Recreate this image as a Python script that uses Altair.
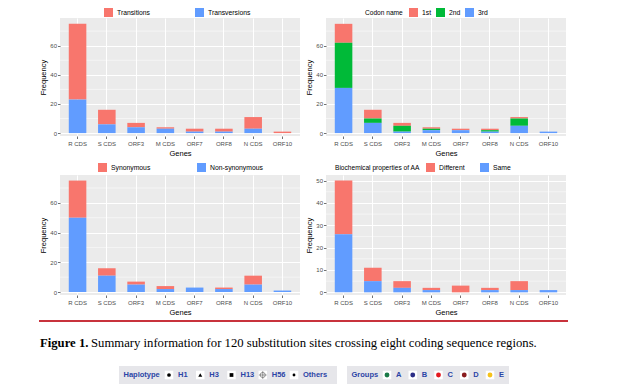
import altair as alt
import pandas as pd

# ---------------- data ----------------
genes = ["R CDS", "S CDS", "ORF3", "M CDS", "ORF7", "ORF8", "N CDS", "ORF10"]

transitions = [52, 10, 3, 1, 2, 2, 8, 1]
transversions = [23, 6, 4, 3, 1, 1, 3, 0]

codon_1st = [13, 6, 2, 1, 1, 1, 1, 0]
codon_2nd = [31, 3, 4, 1, 0, 1, 5, 0]
codon_3rd = [31, 7, 1, 2, 2, 1, 5, 1]

synonymous = [25, 5, 2, 2, 0, 1, 6, 0]
non_synonymous = [50, 11, 5, 2, 3, 2, 5, 1]

aa_different = [24, 6, 3, 1, 3, 1, 4, 0]
aa_same = [26, 5, 2, 1, 0, 1, 1, 1]

y_ticks_a = [0, 20, 40, 60]
y_minor_a = [10, 30, 50, 70]
y_ticks_b = [0, 10, 20, 30, 40, 50]
y_minor_b = [5, 15, 25, 35, 45]

caption_bold = "Figure 1."
caption_text = "Summary information for 120 substitution sites crossing eight coding sequence regions."

haplotype_title = "Haplotype"
haplotype_labels = ["H1", "H3", "H13", "H56", "Others"]
haplotype_symbols = ["circle", "triangle", "square", "crosshair", "dot"]
groups_title = "Groups"
group_labels = ["A", "B", "C", "D", "E"]

# ---------------- styles ----------------
RED, GREEN, BLUE = "#F8766D", "#00BA38", "#619CFF"
GROUP_COLORS = ["#1B7A48", "#2B2D86", "#E3191F", "#8A1C1F", "#F6C21A"]
SANS = "Liberation Sans"
SERIF = "Liberation Serif"
TXT_BLUE = "#2B44A6"
PANEL_W = 240


def panel(names, values, colors, title, y_domain, height, ticks, minor,
          lx, ly, col_pad, title_pad=0):
    rows = []
    for rank, (name, vals) in enumerate(zip(names, values)):
        for g, v in zip(genes, vals):
            rows.append({"gene": g, "series": name, "count": v, "rank": rank})
    df = pd.DataFrame(rows)
    yscale = alt.Scale(domain=y_domain, nice=False, zero=False)
    lk = dict(orient="none", legendX=lx, legendY=ly, direction="horizontal",
              columns=len(names), symbolType="square", symbolSize=81,
              symbolStrokeWidth=0, labelFont=SANS, labelFontSize=6.8,
              labelColor="black", labelOffset=4, columnPadding=col_pad,
              padding=0, rowPadding=0)
    if title:
        lk.update(title=title, titleOrient="left", titleFont=SANS,
                  titleFontSize=6.6, titleFontWeight="normal",
                  titleColor="black", titlePadding=title_pad,
                  titleBaseline="middle", titleAnchor="middle")
    else:
        lk["title"] = None
    x_axis = alt.Axis(title="Genes", labelAngle=0, grid=True, gridColor="white",
                      gridWidth=1, bandPosition=0.5, domain=False, tickSize=2.5,
                      tickColor="#333333", tickWidth=0.7, labelFont=SANS,
                      labelFontSize=6, labelColor="#4D4D4D", labelPadding=1.5,
                      titleFont=SANS, titleFontSize=7.5, titleFontWeight="normal",
                      titleColor="black", titlePadding=3)
    y_axis = alt.Axis(title="Frequency", values=ticks, grid=True, gridColor="white",
                      gridWidth=1, domain=False, tickSize=2.5, tickColor="#333333",
                      tickWidth=0.7, labelFont=SANS, labelFontSize=6,
                      labelColor="#4D4D4D", labelPadding=1, titleFont=SANS,
                      titleFontSize=7.5, titleFontWeight="normal",
                      titleColor="black", titlePadding=2)
    minor_layer = alt.Chart(pd.DataFrame({"v": minor})).mark_rule(
        color="white", strokeWidth=0.5
    ).encode(y=alt.Y("v:Q", scale=yscale, axis=y_axis))
    bars = alt.Chart(df).mark_bar().encode(
        x=alt.X("gene:N", sort=genes,
                scale=alt.Scale(paddingInner=0.4, paddingOuter=0.3), axis=x_axis),
        y=alt.Y("count:Q", stack="zero", scale=yscale, axis=y_axis),
        color=alt.Color("series:N", scale=alt.Scale(domain=names, range=colors),
                        legend=alt.Legend(**lk)),
        order=alt.Order("rank:Q", sort="descending"),
    )
    return alt.layer(minor_layer, bars).properties(
        width=PANEL_W, height=height,
        view=alt.ViewBackground(fill="#EBEBEB", strokeWidth=0),
    )


tl = panel(["Transitions", "Transversions"], [transitions, transversions],
           [RED, BLUE], None, [-2, 79], 118, y_ticks_a, y_minor_a, 44, -10, 45)
tr = panel(["1st", "2nd", "3rd"], [codon_1st, codon_2nd, codon_3rd],
           [RED, GREEN, BLUE], "Codon name", [-2, 79], 118, y_ticks_a, y_minor_a,
           39, -10, 4, 6)
bl = panel(["Synonymous", "Non-synonymous"], [synonymous, non_synonymous],
           [RED, BLUE], None, [-2, 78.75], 120, y_ticks_a, y_minor_a, 38, -12, 46)
br = panel(["Different", "Same"], [aa_different, aa_same],
           [RED, BLUE], "Biochemical properties of AA", [-1.2, 52.5], 120,
           y_ticks_b, y_minor_b, 9, -12, 15, 6)

# ---------------- footer ----------------
one = pd.DataFrame({"k": [0]})
ROW_Y = 41
rule = alt.Chart(one).mark_rule(color="#C8323C", strokeWidth=2.2).encode(
    x=alt.value(-21), x2=alt.value(508), y=alt.value(-13))
cap1 = alt.Chart(pd.DataFrame({"t": [caption_bold]})).mark_text(
    align="left", baseline="middle", font=SERIF, fontSize=12.7, fontWeight="bold",
    color="black").encode(x=alt.value(-20), y=alt.value(9), text="t:N")
cap2 = alt.Chart(pd.DataFrame({"t": [caption_text]})).mark_text(
    align="left", baseline="middle", font=SERIF, fontSize=12.7,
    color="black").encode(x=alt.value(31), y=alt.value(9), text="t:N")
box1 = alt.Chart(one).mark_rect(color="#E6E6EA").encode(
    x=alt.value(59), x2=alt.value(277), y=alt.value(32), y2=alt.value(50))
box2 = alt.Chart(one).mark_rect(color="#E6E6EA").encode(
    x=alt.value(287), x2=alt.value(449), y=alt.value(32), y2=alt.value(50))
title_style = dict(align="left", baseline="middle", font=SANS, fontSize=7.5,
                   fontWeight="bold", color=TXT_BLUE)
htitle = alt.Chart(pd.DataFrame({"t": [haplotype_title]})).mark_text(
    **title_style).encode(x=alt.value(63.5), y=alt.value(ROW_Y), text="t:N")
gtitle = alt.Chart(pd.DataFrame({"t": [groups_title]})).mark_text(
    **title_style).encode(x=alt.value(291.5), y=alt.value(ROW_Y), text="t:N")

hap_df = pd.DataFrame({"label": haplotype_labels, "symbol": haplotype_symbols,
                       "i": list(range(len(haplotype_labels)))})
grp_df = pd.DataFrame({"label": group_labels, "color": GROUP_COLORS,
                       "j": list(range(len(group_labels)))})
hx = alt.X("i:Q", scale=alt.Scale(domain=[0, 4], range=[109, 234]), axis=None)
gx = alt.X("j:Q", scale=alt.Scale(domain=[0, 4], range=[327, 430]), axis=None)

hap_bg = alt.Chart(hap_df).mark_square(size=72, color="white", opacity=1).encode(
    x=hx, y=alt.value(ROW_Y))
grp_bg = alt.Chart(grp_df).mark_square(size=72, color="white", opacity=1).encode(
    x=gx, y=alt.value(ROW_Y))


def sym(name, **kw):
    return alt.Chart(hap_df).transform_filter(alt.datum.symbol == name).mark_point(
        opacity=1, **kw).encode(x=hx, y=alt.value(ROW_Y))


s_circle = sym("circle", shape="circle", filled=True, size=14, color="black")
s_tri = sym("triangle", shape="triangle-up", filled=True, size=16, color="black")
s_sq = sym("square", shape="square", filled=True, size=14, color="black")
s_ch1 = sym("crosshair", shape="circle", filled=False, size=26, color="#555555",
            strokeWidth=0.6)
s_ch2 = sym("crosshair", shape="M-1,0L1,0M0,-1L0,1", filled=False, size=60,
            color="#555555", strokeWidth=0.6)
s_dot = sym("dot", shape="circle", filled=True, size=8, color="black")

hap_lab = alt.Chart(hap_df).mark_text(dx=9, **title_style).encode(
    x=hx, y=alt.value(ROW_Y), text="label:N")
grp_dot = alt.Chart(grp_df).mark_circle(size=24, opacity=1).encode(
    x=gx, y=alt.value(ROW_Y), color=alt.Color("color:N", scale=None))
grp_lab = alt.Chart(grp_df).mark_text(dx=9, **title_style).encode(
    x=gx, y=alt.value(ROW_Y), text="label:N")

footer = alt.layer(
    rule, cap1, cap2, box1, box2, htitle, gtitle, hap_bg, grp_bg,
    s_circle, s_tri, s_sq, s_ch1, s_ch2, s_dot, hap_lab, grp_dot, grp_lab,
).resolve_scale(x="independent", color="independent").properties(
    width=PANEL_W, height=50,
    view=alt.ViewBackground(fill="white", strokeWidth=0),
)

chart = alt.concat(
    tl, tr, bl, br, footer, columns=2, spacing={"row": 39, "column": 26},
    bounds="flush",
).resolve_scale(color="independent").properties(
    padding={"left": 29, "top": 0, "right": 4, "bottom": 4},
    background="white",
).configure_view(strokeWidth=0)

chart.save("out.html", embed_options={"renderer": "svg", "actions": False})
